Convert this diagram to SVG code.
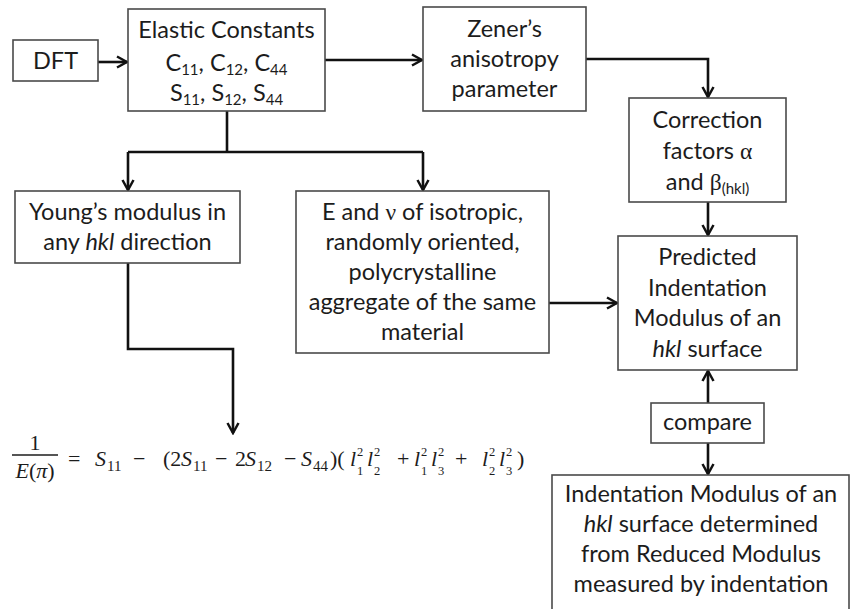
<svg xmlns="http://www.w3.org/2000/svg" width="851" height="609" viewBox="0 0 851 609">
<defs>
<marker id="arr" markerUnits="userSpaceOnUse" markerWidth="14" markerHeight="14" viewBox="0 0 14 14" refX="12" refY="7" orient="auto">
<path d="M2,1.5 L12,7 L2,12.5" fill="none" stroke="#111" stroke-width="2.5"/>
</marker>
<style>
.box{fill:#fff;stroke:#4a4a4a;stroke-width:1.6}
.t{font-family:Lato,"Open Sans",sans-serif;font-size:23.5px;fill:#1c1c1c;text-anchor:middle}
.sub{font-size:15px}
.it{font-style:italic}
.c{fill:none;stroke:#111;stroke-width:2.6}
.m{font-family:"Liberation Serif",serif;font-size:22px;fill:#1c1c1c}
.mi{font-style:italic}
.ms{font-family:"Liberation Serif",serif;font-size:15px;fill:#1c1c1c}
.mss{font-family:"Liberation Serif",serif;font-size:12.5px;fill:#1c1c1c}
.g{font-family:"Liberation Serif",serif}
</style>
</defs>
<rect width="851" height="609" fill="#fff"/>

<g id="connectors">
<path class="c" d="M98,62 H127" marker-end="url(#arr)"/>
<path class="c" d="M325,60 H422" marker-end="url(#arr)"/>
<path class="c" d="M586,59 H708 V97" marker-end="url(#arr)"/>
<path class="c" d="M227,111 V152"/>
<path class="c" d="M128,152 H423"/>
<path class="c" d="M128,152 V190" marker-end="url(#arr)"/>
<path class="c" d="M423,152 V190" marker-end="url(#arr)"/>
<path class="c" d="M708,202 V235" marker-end="url(#arr)"/>
<path class="c" d="M549,303 H617" marker-end="url(#arr)"/>
<path class="c" d="M128,263 V349 H233 V433" marker-end="url(#arr)"/>
<path class="c" d="M708,403 V371" marker-end="url(#arr)"/>
<path class="c" d="M708,443 V474" marker-end="url(#arr)"/>
</g>

<g id="dft">
<rect class="box" x="13" y="40" width="85" height="41"/>
<text class="t" x="55.5" y="69">DFT</text>
</g>

<g id="elastic">
<rect class="box" x="128" y="9" width="197" height="102"/>
<text class="t" x="226.5" y="38">Elastic Constants</text>
<text class="t" x="226.5" y="71">C<tspan class="sub" dy="4">11</tspan><tspan dy="-4">, C</tspan><tspan class="sub" dy="4">12</tspan><tspan dy="-4">, C</tspan><tspan class="sub" dy="4">44</tspan></text>
<text class="t" x="226.5" y="101">S<tspan class="sub" dy="4">11</tspan><tspan dy="-4">, S</tspan><tspan class="sub" dy="4">12</tspan><tspan dy="-4">, S</tspan><tspan class="sub" dy="4">44</tspan></text>
</g>

<g id="zener">
<rect class="box" x="423" y="7" width="163" height="104"/>
<text class="t" x="504.5" y="37">Zener’s</text>
<text class="t" x="504.5" y="67">anisotropy</text>
<text class="t" x="504.5" y="97">parameter</text>
</g>

<g id="correction">
<rect class="box" x="629" y="98" width="157" height="104"/>
<text class="t" x="707.5" y="128">Correction</text>
<text class="t" x="707.5" y="159">factors <tspan class="g">α</tspan></text>
<text class="t" x="707.5" y="190">and  <tspan class="g">β</tspan><tspan class="sub" dy="4">(hkl)</tspan></text>
</g>

<g id="young">
<rect class="box" x="15" y="191" width="225" height="72"/>
<text class="t" x="127.5" y="220">Young’s modulus in</text>
<text class="t" x="127.5" y="250">any <tspan class="it">hkl</tspan> direction</text>
</g>

<g id="isotropic">
<rect class="box" x="296" y="191" width="253" height="162"/>
<text class="t" x="422.5" y="220">E  and <tspan class="g">ν</tspan> of isotropic,</text>
<text class="t" x="422.5" y="250">randomly oriented,</text>
<text class="t" x="422.5" y="280">polycrystalline</text>
<text class="t" x="422.5" y="310">aggregate of the same</text>
<text class="t" x="422.5" y="340">material</text>
</g>

<g id="predicted">
<rect class="box" x="618" y="236" width="179" height="134"/>
<text class="t" x="707.5" y="265">Predicted</text>
<text class="t" x="707.5" y="296">Indentation</text>
<text class="t" x="707.5" y="326">Modulus of an</text>
<text class="t" x="707.5" y="357"><tspan class="it">hkl</tspan> surface</text>
</g>

<g id="compare">
<rect class="box" x="651" y="403" width="113" height="40"/>
<text class="t" x="707.5" y="430">compare</text>
</g>

<g id="measured">
<rect class="box" x="552" y="475" width="297" height="145"/>
<text class="t" x="701" y="502">Indentation Modulus of an</text>
<text class="t" x="701" y="532"><tspan class="it">hkl</tspan> surface determined</text>
<text class="t" x="701" y="562">from Reduced Modulus</text>
<text class="t" x="701" y="592">measured by indentation</text>
</g>

<g id="formula">
<text class="m" x="35" y="450" text-anchor="middle">1</text>
<line x1="12" y1="455" x2="58" y2="455" stroke="#1c1c1c" stroke-width="1.6"/>
<text class="m" x="35" y="478" text-anchor="middle"><tspan class="mi">E</tspan>(<tspan class="mi">π</tspan>)</text>
<text class="m" x="68" y="466">=</text>
<text class="m mi" x="95" y="466">S</text><text class="ms" x="107" y="471">11</text>
<text class="m" x="133" y="466">−</text>
<text class="m" x="163" y="466">(2</text><text class="m mi" x="181" y="466">S</text><text class="ms" x="193" y="471">11</text>
<text class="m" x="215" y="466">−</text>
<text class="m" x="235" y="466">2</text><text class="m mi" x="245" y="466">S</text><text class="ms" x="257" y="471">12</text>
<text class="m" x="284" y="466">−</text>
<text class="m mi" x="301" y="466">S</text><text class="ms" x="313" y="471">44</text>
<text class="m" x="330" y="466">)(</text>
<text class="m mi" x="350" y="466">l</text><text class="mss" x="357" y="456">2</text><text class="mss" x="357" y="475">1</text>
<text class="m mi" x="367" y="466">l</text><text class="mss" x="374" y="456">2</text><text class="mss" x="374" y="475">2</text>
<text class="m" x="397" y="466">+</text>
<text class="m mi" x="414" y="466">l</text><text class="mss" x="421" y="456">2</text><text class="mss" x="421" y="475">1</text>
<text class="m mi" x="431" y="466">l</text><text class="mss" x="438" y="456">2</text><text class="mss" x="438" y="475">3</text>
<text class="m" x="455" y="466">+</text>
<text class="m mi" x="482" y="466">l</text><text class="mss" x="489" y="456">2</text><text class="mss" x="489" y="475">2</text>
<text class="m mi" x="499" y="466">l</text><text class="mss" x="506" y="456">2</text><text class="mss" x="506" y="475">3</text>
<text class="m" x="517" y="466">)</text>
</g>
</svg>
